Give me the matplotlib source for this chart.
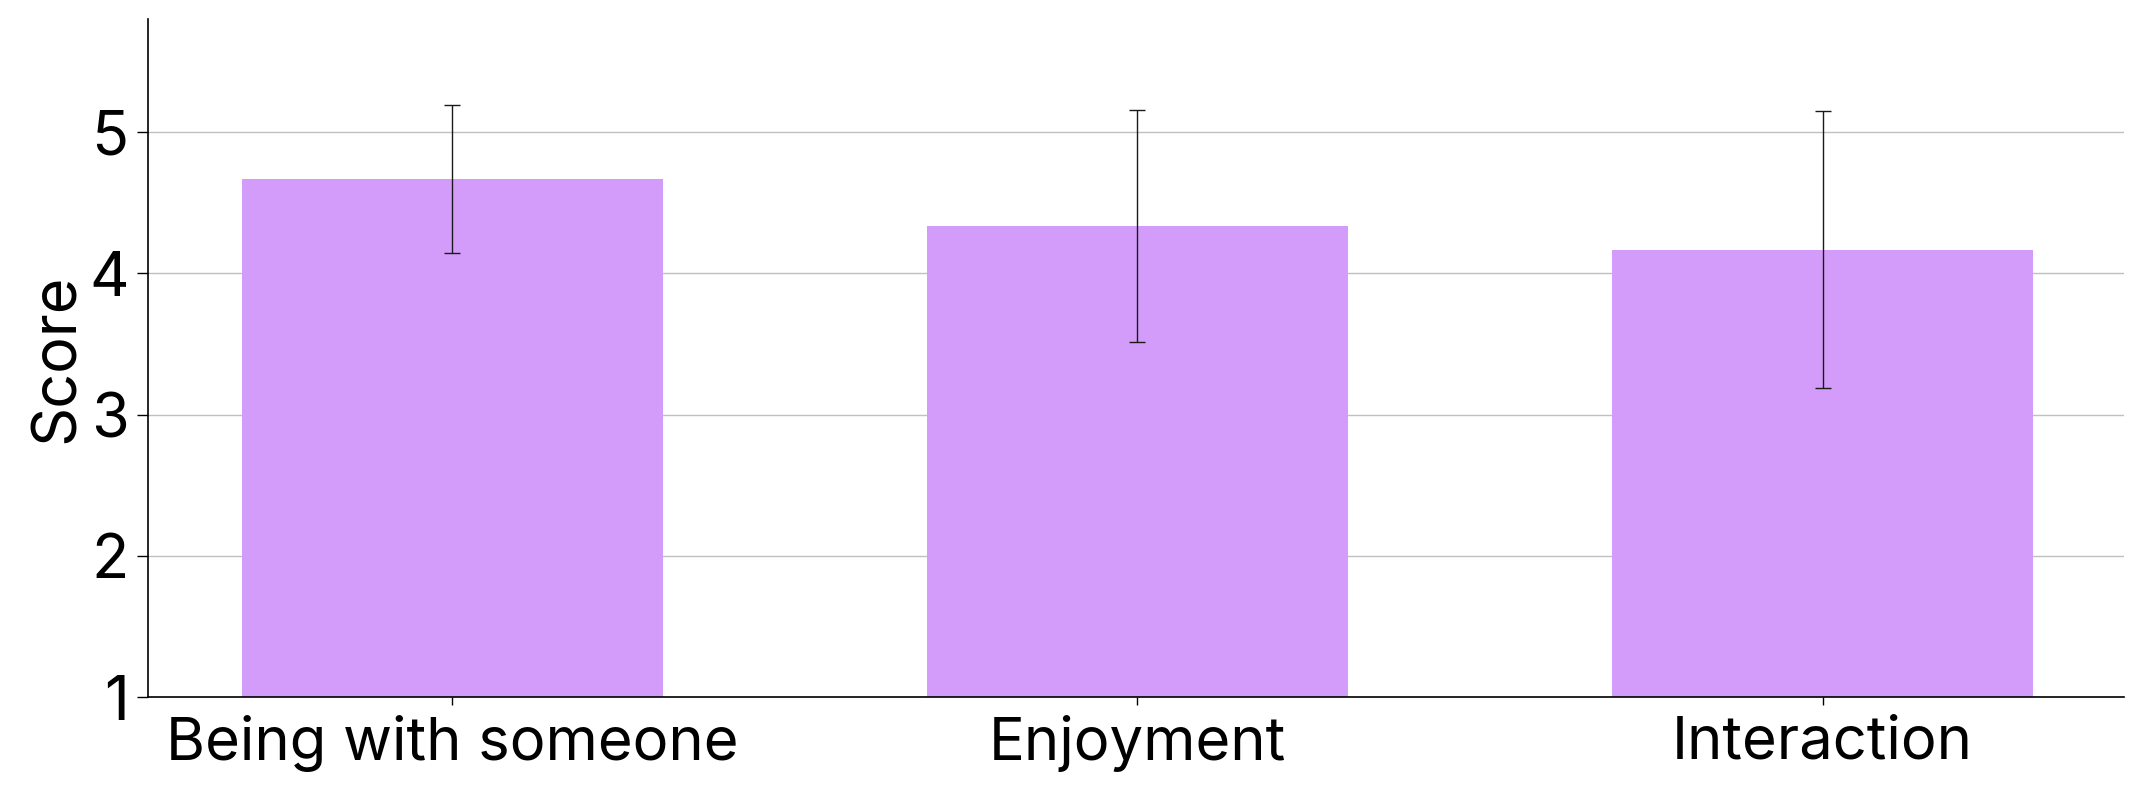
import matplotlib
matplotlib.use("Agg")
import matplotlib.pyplot as plt

categories = ["Being with someone", "Enjoyment", "Interaction"]
means = [4.667, 4.333, 4.167]
errors = [0.525, 0.82, 0.98]
yticks = [1, 2, 3, 4, 5]

plt.rcParams['font.family'] = ['Inter', 'DejaVu Sans']

fig = plt.figure(figsize=(21.5, 7.89), dpi=100)
ax = fig.add_axes([148/2150, 1 - 697/789, (2124-148)/2150, (697-19)/789])

x = list(range(len(categories)))
ax.bar(x, means, width=0.615, color="#D49CFA", zorder=2)
ax.errorbar(x, means, yerr=errors, fmt="none", ecolor="#1a1a1a",
            elinewidth=1.0, capsize=6, capthick=1.0, zorder=3)

ax.set_ylim(1, 5.8)
ax.set_xlim(-0.444, 2.44)
ax.set_yticks(yticks)
ax.set_xticks(x)
ax.set_xticklabels(categories, fontsize=43)
ax.tick_params(axis='y', labelsize=44, length=8, width=1, pad=6)
ax.tick_params(axis='x', length=6, width=1, pad=7)
ax.set_ylabel("Score", fontsize=44, labelpad=2)
ax.yaxis.grid(True, color="#c0c0c0", linewidth=1, zorder=0)
ax.set_axisbelow(True)
for s in ["top", "right"]:
    ax.spines[s].set_visible(False)
for s in ["left", "bottom"]:
    ax.spines[s].set_linewidth(1.2)

fig.savefig("out.png", dpi=100)
